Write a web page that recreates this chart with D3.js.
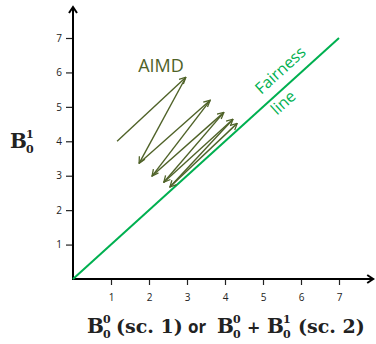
<!DOCTYPE html>
<html>
<head>
<meta charset="utf-8">
<script src="https://cdn.jsdelivr.net/npm/d3@7"></script>
<style>
  body { margin: 0; background: #fff; }
  .tick-label { font-family: "Open Sans", sans-serif; font-size: 10px; fill: #222; }
  .math { font-family: "DejaVu Serif", serif; font-weight: bold; fill: #222; }
</style>
</head>
<body>
<svg class="chart" width="376" height="344"></svg>
<script>
const svg = d3.select('.chart');

const tickValues = [1, 2, 3, 4, 5, 6, 7];
const aimdX = [1.16, 2.97, 1.74, 3.61, 2.08, 3.97, 2.39, 4.21, 2.55, 4.32];
const aimdY = [4.0, 5.86, 3.36, 5.19, 2.99, 4.84, 2.81, 4.64, 2.67, 4.52];
const fairness = [0, 7];

const x = d3.scaleLinear().domain([0, 7]).range([73, 339]);
const y = d3.scaleLinear().domain([0, 7]).range([279, 38]);

const olive = '#4f6228';
const green = '#00b050';

const defs = svg.append('defs');
defs.append('marker')
    .attr('id', 'axisHead')
    .attr('viewBox', '0 0 10 10')
    .attr('refX', 8).attr('refY', 5)
    .attr('markerWidth', 10).attr('markerHeight', 10)
    .attr('markerUnits', 'userSpaceOnUse')
    .attr('orient', 'auto')
    .append('path')
    .attr('d', 'M2,1 L8,5 L2,9')
    .attr('fill', 'none')
    .attr('stroke', '#000')
    .attr('stroke-width', 2);

defs.append('marker')
    .attr('id', 'aimdHead')
    .attr('viewBox', '0 0 10 10')
    .attr('refX', 9).attr('refY', 5)
    .attr('markerWidth', 8).attr('markerHeight', 8)
    .attr('markerUnits', 'userSpaceOnUse')
    .attr('orient', 'auto')
    .append('path')
    .attr('d', 'M1,1 L9,5 L1,9')
    .attr('fill', 'none')
    .attr('stroke', olive)
    .attr('stroke-width', 1.6);

// axes
const xAxis = d3.axisBottom(x).tickValues(tickValues).tickFormat(d3.format('d'))
    .tickSize(6).tickPadding(9);
const yAxis = d3.axisLeft(y).tickValues(tickValues).tickFormat(d3.format('d'))
    .tickSize(7).tickPadding(4);

const xAxisG = svg.append('g')
    .attr('transform', `translate(0,${y(0)})`)
    .call(xAxis);
const yAxisG = svg.append('g')
    .attr('transform', `translate(${x(0)},0)`)
    .call(yAxis);

[xAxisG, yAxisG].forEach(g => {
  g.select('.domain').remove();
  g.selectAll('.tick line').attr('stroke', '#222').attr('stroke-width', 1.2);
  g.selectAll('.tick text').attr('class', 'tick-label').attr('font-family', null).attr('font-size', null);
});

svg.append('line')
    .attr('x1', x(0) - 1).attr('y1', y(0))
    .attr('x2', x(7.9)).attr('y2', y(0))
    .attr('stroke', '#000').attr('stroke-width', 2)
    .attr('marker-end', 'url(#axisHead)');
svg.append('line')
    .attr('x1', x(0)).attr('y1', y(0) + 1)
    .attr('x2', x(0)).attr('y2', y(7.9))
    .attr('stroke', '#000').attr('stroke-width', 2)
    .attr('marker-end', 'url(#axisHead)');

// fairness line
svg.append('line')
    .attr('x1', x(fairness[0])).attr('y1', y(fairness[0]))
    .attr('x2', x(fairness[1])).attr('y2', y(fairness[1]))
    .attr('stroke', green).attr('stroke-width', 2);

const angle = Math.atan2(y(7) - y(0), x(7) - x(0)) * 180 / Math.PI;

svg.append('text')
    .attr('transform', `translate(${x(5.73)},${y(5.73)}) rotate(${angle})`)
    .attr('dy', -10)
    .attr('text-anchor', 'middle')
    .attr('font-family', 'Open Sans, sans-serif')
    .attr('font-size', 16)
    .attr('fill', green)
    .text('Fairness');
svg.append('text')
    .attr('transform', `translate(${x(5.35)},${y(5.35)}) rotate(${angle})`)
    .attr('dy', 16)
    .attr('text-anchor', 'middle')
    .attr('font-family', 'Open Sans, sans-serif')
    .attr('font-size', 16)
    .attr('fill', green)
    .text('line');

// AIMD arrows
const segs = d3.range(aimdX.length - 1).map(i => [i, i + 1]);
svg.append('g')
    .selectAll('line')
    .data(segs)
    .enter()
    .append('line')
    .attr('x1', d => x(aimdX[d[0]]))
    .attr('y1', d => y(aimdY[d[0]]))
    .attr('x2', d => x(aimdX[d[1]]))
    .attr('y2', d => y(aimdY[d[1]]))
    .attr('stroke', olive)
    .attr('stroke-width', 1.4)
    .attr('marker-end', 'url(#aimdHead)');

svg.append('text')
    .attr('x', 161).attr('y', 72)
    .attr('text-anchor', 'middle')
    .attr('font-family', 'Open Sans, sans-serif')
    .attr('font-size', 18)
    .attr('fill', olive)
    .text('AIMD');

// math labels: B with stacked sub/sup
function bLabel(x0, base, sup, sub) {
  const g = svg.append('g');
  g.append('text').attr('class', 'math').attr('x', x0).attr('y', base)
      .attr('font-size', 20).text('B');
  g.append('text').attr('class', 'math').attr('x', x0 + 16).attr('y', base - 10)
      .attr('font-size', 11).text(sup);
  g.append('text').attr('class', 'math').attr('x', x0 + 16).attr('y', base + 5)
      .attr('font-size', 11).text(sub);
}

bLabel(10, 148, '1', '0');

const xb = 333;
bLabel(87, xb, '0', '0');
svg.append('text').attr('class', 'math').attr('x', 116).attr('y', xb)
    .attr('font-size', 19).text('(sc. 1)');
svg.append('text').attr('x', 188).attr('y', xb)
    .attr('font-family', 'Open Sans, sans-serif').attr('font-weight', 'bold')
    .attr('font-size', 17).attr('fill', '#222').text('or');
bLabel(217, xb, '0', '0');
svg.append('text').attr('class', 'math').attr('x', 247).attr('y', xb)
    .attr('font-size', 16).text('+');
bLabel(267, xb, '1', '0');
svg.append('text').attr('class', 'math').attr('x', 298).attr('y', xb)
    .attr('font-size', 19).text('(sc. 2)');
</script>
</body>
</html>
